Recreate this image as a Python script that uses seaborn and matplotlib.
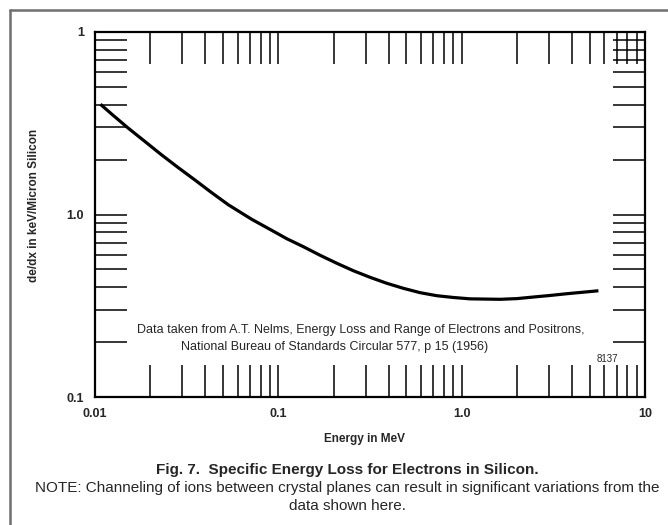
import numpy as np
import pandas as pd
import matplotlib
matplotlib.use("Agg")
import matplotlib.pyplot as plt
from matplotlib import font_manager
from matplotlib.ticker import FixedLocator, NullFormatter
from matplotlib.lines import Line2D
import seaborn as sns

# ---- data ----
energy_mev = [0.0107, 0.01233, 0.0152, 0.01874, 0.0231, 0.02848, 0.0351, 0.0433,
              0.0534, 0.0716, 0.096, 0.1111, 0.137, 0.1688, 0.208, 0.2565,
              0.316, 0.390, 0.481, 0.593, 0.731, 0.901, 1.11, 1.62, 2.0,
              2.46, 3.03, 3.74, 5.57]
dedx_kev_um = [4.02, 3.55, 2.97, 2.51, 2.12, 1.805, 1.545, 1.317,
               1.13, 0.941, 0.80, 0.737, 0.666, 0.598, 0.541, 0.492,
               0.453, 0.42, 0.394, 0.373, 0.359, 0.351, 0.345, 0.343, 0.346,
               0.353, 0.360, 0.368, 0.382]
x_major = [0.01, 0.1, 1.0, 10.0]
x_major_labels = ["0.01", "0.1", "1.0", "10"]
y_major = [0.1, 1.0, 10.0]
y_major_labels = ["0.1", "1.0", "1"]

df = pd.DataFrame({"energy": energy_mev, "dedx": dedx_kev_um})

sns.set_theme(style="white")
names = {f.name for f in font_manager.fontManager.ttflist}
base = "Liberation Sans" if "Liberation Sans" in names else "DejaVu Sans"
narrow = "Liberation Sans Narrow" if "Liberation Sans Narrow" in names else base
plt.rcParams["font.family"] = [base, "DejaVu Sans"]

fig = plt.figure(figsize=(6.68, 5.25), dpi=100)
ax = fig.add_axes([95 / 668, 1 - 397 / 525, 550 / 668, 365 / 525])

sns.lineplot(data=df, x="energy", y="dedx", ax=ax, color="black", lw=2.3,
             estimator=None, sort=True)
ax.lines[0].set_solid_joinstyle("round")
ax.lines[0].set_solid_capstyle("butt")
ax.set_xscale("log")
ax.set_yscale("log")
ax.set_xlim(0.01, 10)
ax.set_ylim(0.1, 10)

minor_x = [m * d for d in [0.01, 0.1, 1.0] for m in range(2, 10)]
minor_y = [m * d for d in [0.1, 1.0] for m in range(2, 10)]
ax.xaxis.set_major_locator(FixedLocator(x_major))
ax.yaxis.set_major_locator(FixedLocator(y_major))
ax.set_xticklabels(x_major_labels)
ax.set_yticklabels(y_major_labels)
ax.xaxis.set_minor_locator(FixedLocator(minor_x))
ax.yaxis.set_minor_locator(FixedLocator(minor_y))
ax.xaxis.set_minor_formatter(NullFormatter())
ax.yaxis.set_minor_formatter(NullFormatter())

for which in ("major", "minor"):
    ax.tick_params(axis="both", which=which, direction="in", length=23,
                   width=1.1, color="black", top=True, right=True,
                   bottom=True, left=True)
ax.tick_params(axis="both", which="major", labelsize=9, pad=8)
for lab in ax.get_xticklabels() + ax.get_yticklabels():
    lab.set_fontweight("bold")

for s in ax.spines.values():
    s.set_color("black")
    s.set_linewidth(1.6)
ax.grid(False)

ax.set_xlabel("")
ax.set_ylabel("")
fig.text(365 / 668, 1 - 439 / 525, "Energy in MeV", ha="center", va="center",
         fontsize=8.5, fontweight="bold")
fig.text(34 / 668, 1 - 205 / 525, "de/dx in keV/Micron Silicon", ha="center",
         va="center", rotation=90, fontsize=8.5, fontweight="bold")

ax.text(361 / 668, 1 - 330 / 525, "Data taken from A.T. Nelms, Energy Loss and Range of Electrons and Positrons,",
        transform=fig.transFigure, ha="center", va="center", fontsize=9.0)
ax.text(335 / 668, 1 - 347 / 525, "National Bureau of Standards Circular 577, p 15 (1956)",
        transform=fig.transFigure, ha="center", va="center", fontsize=9.0)
ax.text(607 / 668, 1 - 359 / 525, "8137", transform=fig.transFigure,
        ha="center", va="center", fontsize=7)

fig.text(347 / 668, 1 - 470 / 525, "Fig. 7.  Specific Energy Loss for Electrons in Silicon.",
         ha="center", va="center", fontsize=11, fontweight="bold",
         family=[narrow, "DejaVu Sans"])
fig.text(347 / 668, 1 - 488 / 525,
         "NOTE: Channeling of ions between crystal planes can result in significant variations from the",
         ha="center", va="center", fontsize=11, family=[narrow, "DejaVu Sans"])
fig.text(347 / 668, 1 - 506 / 525, "data shown here.", ha="center", va="center",
         fontsize=11, family=[narrow, "DejaVu Sans"])

# page border
fig.add_artist(Line2D([10 / 668, 10 / 668], [0, 1 - 10 / 525], transform=fig.transFigure,
                      color="#6e6e6e", lw=1.8))
fig.add_artist(Line2D([10 / 668, 1], [1 - 10 / 525, 1 - 10 / 525], transform=fig.transFigure,
                      color="#6e6e6e", lw=1.8))

fig.savefig("out.png", dpi=100, facecolor="white")
